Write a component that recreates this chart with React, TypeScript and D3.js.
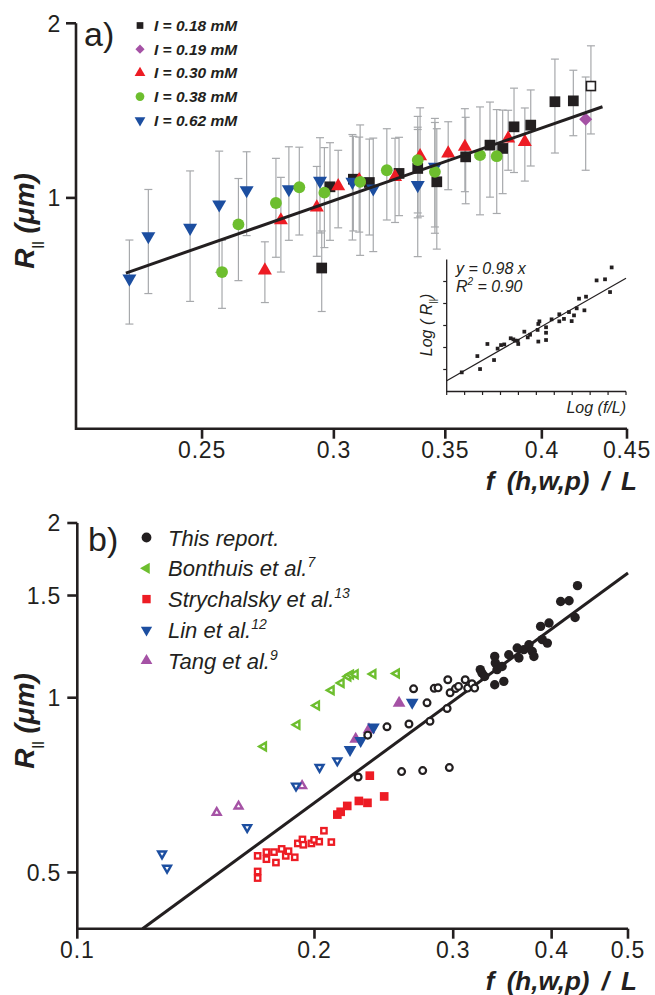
import React from "react";
import * as d3 from "d3";

const FONT = "'Liberation Sans', Arial, Helvetica, sans-serif";
const INK = "#231f20";
const GRAY = "#a7a9ac";
const PURPLE = "#a552a5";
const RED = "#ed1c24";
const GREEN = "#6dbe2e";
const BLUE = "#1c4ea0";

// ---- panel a : R|| vs f/L for five ionic strengths ----
const xTicksA = [0.25, 0.3, 0.35, 0.4, 0.45];
const yTicksA = [1, 2];

const a018X = [0.295, 0.2984, 0.3082, 0.3151, 0.3283, 0.3369, 0.3459, 0.36, 0.3723, 0.3789, 0.3849, 0.3939, 0.4073, 0.4178];
const a018Y = [0.757, 1.045, 1.077, 1.063, 1.102, 1.124, 1.066, 1.177, 1.233, 1.217, 1.326, 1.335, 1.465, 1.47];
const a018Err = [0.12, 0.2, 0.2, 0.2, 0.17, 0.2, 0.25, 0.2, 0.23, 0.2, 0.22, 0.2, 0.27, 0.19];
const a018OpenX = [0.4281];
const a018OpenY = [1.559];
const a018OpenErr = [0.27];

const a019X = [0.425];
const a019Y = [1.366];
const a019Err = [0.25];

const a030X = [0.2727, 0.2788, 0.293, 0.3018, 0.3107, 0.3265, 0.338, 0.3514, 0.3596, 0.3818, 0.3907];
const a030Y = [0.75, 0.915, 0.963, 1.048, 1.073, 1.087, 1.18, 1.193, 1.225, 1.266, 1.249];
const a030Err = [0.09, 0.17, 0.17, 0.16, 0.2, 0.18, 0.25, 0.16, 0.2, 0.15, 0.18];

const a038X = [0.257, 0.2629, 0.2769, 0.286, 0.2961, 0.3111, 0.3228, 0.3369, 0.345, 0.3672, 0.3758];
const a038Y = [0.745, 0.9, 0.98, 1.043, 1.021, 1.066, 1.116, 1.162, 1.109, 1.185, 1.18];
const a038Err = [0.1, 0.18, 0.19, 0.18, 0.2, 0.27, 0.2, 0.22, 0.24, 0.25, 0.24];

const a062X = [0.2261, 0.2321, 0.2459, 0.256, 0.2659, 0.2819, 0.2943, 0.3078, 0.3168, 0.3369, 0.345];
const a062Y = [0.726, 0.859, 0.888, 0.974, 1.031, 1.035, 1.07, 1.066, 1.038, 1.052, 1.131];
const a062Err = [0.12, 0.175, 0.225, 0.23, 0.17, 0.19, 0.2, 0.22, 0.23, 0.26, 0.24];

const fitAX = [0.225, 0.435];
const fitAY = [0.742, 1.436];

const legendA = ["I = 0.18 mM", "I = 0.19 mM", "I = 0.30 mM", "I = 0.38 mM", "I = 0.62 mM"];

// ---- inset : log-log (tick units, unlabeled) ----
const insetX = [0.84, 1.71, 1.86, 2.27, 2.64, 2.84, 3.03, 3.21, 3.57, 3.72, 3.81, 3.99, 3.96, 4.33, 4.52, 4.65, 5.07, 5.11, 5.11, 5.17, 5.54, 5.54, 5.54, 5.85, 6.28, 6.28, 6.54, 6.82, 6.97, 7.1, 7.25, 7.38, 7.68, 7.77, 8.36, 8.83, 9.11, 9.2];
const insetY = [0.87, 1.61, 1.02, 2.16, 1.43, 1.95, 2.11, 2.14, 2.42, 2.37, 2.31, 2.16, 2.31, 2.72, 2.46, 2.58, 2.8, 2.27, 3.07, 3.19, 2.92, 2.67, 2.34, 3.28, 3.51, 3.19, 3.3, 3.61, 3.2, 3.46, 3.78, 4.22, 3.69, 4.31, 5.05, 5.1, 4.52, 5.64];
const insetFitX = [0, 10];
const insetFitY = [0.49, 5.15];
const insetXTicks = [0, 1, 2, 3, 4, 5, 6, 7, 8, 9, 10];
const insetYTicks = [1, 2, 3, 4, 5];

// ---- panel b : comparison with literature ----
const xTicksB = [0.1, 0.2, 0.3, 0.4, 0.5];
const yTicksB = [0.5, 1, 1.5, 2];

const reportOpenX = [0.2272, 0.2337, 0.2472, 0.258, 0.2636, 0.2672, 0.2744, 0.2779, 0.2803, 0.2838, 0.287, 0.2947, 0.2953, 0.2966, 0.2973, 0.302, 0.3047, 0.3107, 0.3129, 0.3169, 0.3194];
const reportOpenY = [0.73, 0.862, 0.891, 0.746, 0.901, 1.036, 0.749, 0.98, 0.911, 1.038, 1.04, 0.958, 1.074, 0.758, 1.02, 1.037, 1.046, 1.074, 1.039, 1.057, 1.039];
const reportFillX = [0.3247, 0.3263, 0.3289, 0.3387, 0.3393, 0.3387, 0.341, 0.3461, 0.3478, 0.3529, 0.3617, 0.3635, 0.3688, 0.3743, 0.3779, 0.3798, 0.3873, 0.3892, 0.395, 0.3969, 0.4107, 0.4209, 0.4284, 0.4314];
const reportFillY = [1.118, 1.103, 1.088, 1.178, 1.148, 1.053, 1.118, 1.132, 1.067, 1.186, 1.218, 1.171, 1.21, 1.234, 1.202, 1.178, 1.327, 1.259, 1.242, 1.345, 1.465, 1.469, 1.375, 1.56];

const bonthuisX = [0.1724, 0.1901, 0.2013, 0.2101, 0.2163, 0.2206, 0.2223, 0.2254, 0.2374, 0.2542];
const bonthuisY = [0.824, 0.898, 0.97, 1.03, 1.06, 1.088, 1.096, 1.098, 1.099, 1.101];

const strychOpenX = [0.1694, 0.1694, 0.1694, 0.1738, 0.1738, 0.1777, 0.1787, 0.1817, 0.1839, 0.1854, 0.1888, 0.1905, 0.1931, 0.1936, 0.1982, 0.1998, 0.2028, 0.2056, 0.2101];
const strychOpenY = [0.534, 0.502, 0.489, 0.527, 0.542, 0.542, 0.52, 0.549, 0.534, 0.544, 0.531, 0.561, 0.57, 0.558, 0.561, 0.569, 0.565, 0.59, 0.564];
const strychFillX = [0.2138, 0.2159, 0.2201, 0.2277, 0.2335, 0.2452, 0.2351];
const strychFillY = [0.629, 0.636, 0.651, 0.664, 0.659, 0.676, 0.734];

const linOpenX = [0.1281, 0.13, 0.1643, 0.1895, 0.203, 0.2138];
const linOpenY = [0.5385, 0.5088, 0.598, 0.705, 0.759, 0.779];
const linFillX = [0.2219, 0.2289, 0.2376, 0.2661];
const linFillY = [0.814, 0.843, 0.89, 0.982];

const tangOpenX = [0.1503, 0.1602, 0.1929];
const tangOpenY = [0.634, 0.65, 0.705];
const tangFillX = [0.2256, 0.2345, 0.2561];
const tangFillY = [0.849, 0.881, 0.979];

const fitBX = [0.121, 0.5];
const fitBY = [0.4, 1.64];

const legendB = [
  { text: "This report.", sup: "" },
  { text: "Bonthuis et al.", sup: "7" },
  { text: "Strychalsky et al.", sup: "13" },
  { text: "Lin et al.", sup: "12" },
  { text: "Tang et al.", sup: "9" },
];

const sym = (t: d3.SymbolType, s: number) => d3.symbol().type(t).size(s)() as string;

function Mark({ cx, cy, shape, size, fill, dot = false }: any) {
  const rot = shape === "triDown" ? 180 : shape === "triLeft" ? -90 : shape === "diamond" ? 45 : 0;
  const type = shape.startsWith("tri") ? d3.symbolTriangle : shape === "circle" ? d3.symbolCircle : d3.symbolSquare;
  return (
    <g transform={`translate(${cx},${cy}) rotate(${rot})`}>
      <path d={sym(type, size)} fill={fill} />
      {dot && <path d={sym(type, size * 0.09)} fill="#fff" />}
    </g>
  );
}

const fmt = (v: number) => String(v);

export default function App() {
  const xA = d3.scaleLog().domain([0.21, 0.45]).range([76, 627]);
  const yA = d3.scaleLog().domain([0.4, 2]).range([428.7, 23.3]);
  const xB = d3.scaleLog().domain([0.1, 0.5]).range([77.3, 628]);
  const yB = d3.scaleLog().domain([0.4, 2]).range([928.7, 523]);
  const xI = d3.scaleLinear().domain([0, 10]).range([446.7, 626]);
  const yI = d3.scaleLinear().domain([0, 6]).range([391.5, 259.5]);

  const seriesA = [
    { x: a018X, y: a018Y, err: a018Err, shape: "square", size: 115, color: INK },
    { x: a030X, y: a030Y, err: a030Err, shape: "triUp", size: 85, color: RED },
    { x: a062X, y: a062Y, err: a062Err, shape: "triDown", size: 85, color: BLUE },
    { x: a038X, y: a038Y, err: a038Err, shape: "circle", size: 110, color: GREEN },
    { x: a019X, y: a019Y, err: a019Err, shape: "diamond", size: 85, color: PURPLE },
  ];
  const legendAMarks = [
    { shape: "square", size: 45, color: INK },
    { shape: "diamond", size: 42, color: PURPLE },
    { shape: "triUp", size: 50, color: RED },
    { shape: "circle", size: 60, color: GREEN },
    { shape: "triDown", size: 50, color: BLUE },
  ];
  const legendBMarks = [
    { shape: "circle", size: 75, color: INK },
    { shape: "triLeft", size: 55, color: GREEN },
    { shape: "square", size: 70, color: RED },
    { shape: "triDown", size: 55, color: BLUE },
    { shape: "triUp", size: 60, color: PURPLE },
  ];

  const errBars = (xs: number[], ys: number[], es: number[], key: string) =>
    xs.map((x, i) => {
      const cx = xA(x);
      const t = yA(ys[i] + es[i]);
      const b = yA(ys[i] - es[i]);
      return (
        <g key={key + i} stroke={GRAY} strokeWidth={1.2}>
          <line x1={cx} x2={cx} y1={t} y2={b} />
          <line x1={cx - 4} x2={cx + 4} y1={t} y2={t} />
          <line x1={cx - 4} x2={cx + 4} y1={b} y2={b} />
        </g>
      );
    });

  const axisStyle = { stroke: INK, strokeWidth: 2.6, fill: "none" } as const;
  const tickFont = { fontSize: 23, letterSpacing: 0.8, fill: INK } as const;

  return (
    <svg width={655} height={995} style={{ position: "absolute", left: 0, top: 0, background: "#fff" }} fontFamily={FONT}>
      <rect width={655} height={995} fill="#fff" />

      {/* ================= panel a ================= */}
      {seriesA.map((s, k) => errBars(s.x, s.y, s.err, "e" + k))}
      {errBars(a018OpenX, a018OpenY, a018OpenErr, "eo")}
      {seriesA.map((s, k) =>
        s.x.map((x, i) => (
          <Mark key={"a" + k + "-" + i} cx={xA(x)} cy={yA(s.y[i])} shape={s.shape} size={s.size} fill={s.color} />
        ))
      )}
      {a018OpenX.map((x, i) => (
        <rect key={"ao" + i} x={xA(x) - 4.5} y={yA(a018OpenY[i]) - 4.5} width={9} height={9} fill="#fff" stroke={INK} strokeWidth={1.6} />
      ))}
      <line x1={xA(fitAX[0])} y1={yA(fitAY[0])} x2={xA(fitAX[1])} y2={yA(fitAY[1])} stroke={INK} strokeWidth={3} />

      <path d={`M${xA.range()[0]},${yA.range()[1]}V${yA.range()[0]}H${xA.range()[1]}`} {...axisStyle} />
      {yTicksA.map((t) => (
        <g key={"yta" + t}>
          <line x1={xA.range()[0] - 10} x2={xA.range()[0]} y1={yA(t)} y2={yA(t)} stroke={INK} strokeWidth={2.6} />
          <text x={61} y={yA(t)} dy="0.36em" textAnchor="end" {...tickFont}>{fmt(t)}</text>
        </g>
      ))}
      {xTicksA.map((t) => (
        <g key={"xta" + t}>
          <line x1={xA(t)} x2={xA(t)} y1={yA.range()[0]} y2={yA.range()[0] + 10} stroke={INK} strokeWidth={2.6} />
          <text x={xA(t)} y={458} textAnchor="middle" {...tickFont}>{fmt(t)}</text>
        </g>
      ))}
      <text x={84} y={46} fontSize={34} fill={INK}>a)</text>
      {legendA.map((l, i) => {
        const cy = 25.5 + i * 23.7;
        const m = legendAMarks[i];
        return (
          <g key={"la" + i}>
            <Mark cx={140} cy={cy} shape={m.shape} size={m.size} fill={m.color} />
            <text x={154} y={cy + 5.5} fontSize={15.5} fontWeight="bold" fontStyle="italic" fill={INK}>{l}</text>
          </g>
        );
      })}
      <text transform="translate(34,221) rotate(-90)" textAnchor="middle" fontSize={28} fontWeight="bold" fontStyle="italic" fill={INK}>
        R<tspan fontSize={13} dy={7}>||</tspan><tspan dy={-7}> (μm)</tspan>
      </text>
      <text x={637} y={490} textAnchor="end" fontSize={26} fontWeight="bold" fontStyle="italic" wordSpacing={5} fill={INK}>f (h,w,p) / L</text>

      {/* ---- inset ---- */}
      <line x1={xI(insetFitX[0])} y1={yI(insetFitY[0])} x2={xI(insetFitX[1])} y2={yI(insetFitY[1])} stroke={INK} strokeWidth={1.2} />
      {insetX.map((x, i) => (
        <path key={"in" + i} transform={`translate(${xI(x)},${yI(insetY[i])})`} d={sym(d3.symbolSquare, 14)} fill={INK} />
      ))}
      <path d={`M${xI.range()[0]},${yI.range()[1]}V${yI.range()[0]}H${xI.range()[1]}`} stroke={INK} strokeWidth={1.3} fill="none" />
      {insetXTicks.map((t) => (
        <line key={"ixt" + t} x1={xI(t)} x2={xI(t)} y1={yI(0)} y2={yI(0) + 3.5} stroke={INK} strokeWidth={1.2} />
      ))}
      {insetYTicks.map((t) => (
        <line key={"iyt" + t} x1={xI(0) - 3.5} x2={xI(0)} y1={yI(t)} y2={yI(t)} stroke={INK} strokeWidth={1.2} />
      ))}
      <text x={456} y={274} fontSize={16} fontStyle="italic" fill={INK}>y = 0.98 x</text>
      <text x={456} y={292} fontSize={16} fontStyle="italic" fill={INK}>
        R<tspan fontSize={10} dy={-7}>2</tspan><tspan dy={7}> = 0.90</tspan>
      </text>
      <text transform="translate(432,325) rotate(-90)" textAnchor="middle" fontSize={16} fontStyle="italic" fill={INK}>
        Log ( R<tspan fontSize={9} dy={4}>||</tspan><tspan dy={-4}>)</tspan>
      </text>
      <text x={626} y={413} textAnchor="end" fontSize={16} fontStyle="italic" fill={INK}>Log (f/L)</text>

      {/* ================= panel b ================= */}
      <line x1={xB(fitBX[0])} y1={yB(fitBY[0])} x2={xB(fitBX[1])} y2={yB(fitBY[1])} stroke={INK} strokeWidth={3} />
      {strychOpenX.map((x, i) => (
        <rect key={"so" + i} x={xB(x) - 2.7} y={yB(strychOpenY[i]) - 2.7} width={5.4} height={5.4} fill="#fff" stroke={RED} strokeWidth={2.3} />
      ))}
      {strychFillX.map((x, i) => (
        <Mark key={"sf" + i} cx={xB(x)} cy={yB(strychFillY[i])} shape="square" size={75} fill={RED} />
      ))}
      {bonthuisX.map((x, i) => (
        <Mark key={"bo" + i} cx={xB(x)} cy={yB(bonthuisY[i])} shape="triLeft" size={62} fill={GREEN} dot />
      ))}
      {tangOpenX.map((x, i) => (
        <Mark key={"to" + i} cx={xB(x)} cy={yB(tangOpenY[i])} shape="triUp" size={62} fill={PURPLE} dot />
      ))}
      {tangFillX.map((x, i) => (
        <Mark key={"tf" + i} cx={xB(x)} cy={yB(tangFillY[i])} shape="triUp" size={70} fill={PURPLE} />
      ))}
      {linOpenX.map((x, i) => (
        <Mark key={"lo" + i} cx={xB(x)} cy={yB(linOpenY[i])} shape="triDown" size={62} fill={BLUE} dot />
      ))}
      {linFillX.map((x, i) => (
        <Mark key={"lf" + i} cx={xB(x)} cy={yB(linFillY[i])} shape="triDown" size={70} fill={BLUE} />
      ))}
      {reportOpenX.map((x, i) => (
        <circle key={"ro" + i} cx={xB(x)} cy={yB(reportOpenY[i])} r={3.4} fill="#fff" stroke={INK} strokeWidth={2.2} />
      ))}
      {reportFillX.map((x, i) => (
        <circle key={"rf" + i} cx={xB(x)} cy={yB(reportFillY[i])} r={4.7} fill={INK} />
      ))}

      <path d={`M${xB.range()[0]},${yB.range()[1]}V${yB.range()[0]}H${xB.range()[1]}`} {...axisStyle} />
      {yTicksB.map((t) => (
        <g key={"ytb" + t}>
          <line x1={xB.range()[0] - 10} x2={xB.range()[0]} y1={yB(t)} y2={yB(t)} stroke={INK} strokeWidth={2.6} />
          <text x={61} y={yB(t)} dy="0.36em" textAnchor="end" {...tickFont}>{fmt(t)}</text>
        </g>
      ))}
      {xTicksB.map((t) => (
        <g key={"xtb" + t}>
          <line x1={xB(t)} x2={xB(t)} y1={yB.range()[0]} y2={yB.range()[0] + 10} stroke={INK} strokeWidth={2.6} />
          <text x={xB(t)} y={958} textAnchor="middle" {...tickFont}>{fmt(t)}</text>
        </g>
      ))}
      <text x={88} y={551} fontSize={34} fill={INK}>b)</text>
      {legendB.map((l, i) => {
        const cy = 537.5 + i * 30.8;
        const m = legendBMarks[i];
        return (
          <g key={"lb" + i}>
            <Mark cx={146.5} cy={cy} shape={m.shape} size={m.size} fill={m.color} />
            <text x={168} y={cy + 8} fontSize={22} fontStyle="italic" fill={INK}>
              {l.text}
              {l.sup && <tspan fontSize={14} dy={-9}>{l.sup}</tspan>}
            </text>
          </g>
        );
      })}
      <text transform="translate(34,721) rotate(-90)" textAnchor="middle" fontSize={28} fontWeight="bold" fontStyle="italic" fill={INK}>
        R<tspan fontSize={13} dy={7}>||</tspan><tspan dy={-7}> (μm)</tspan>
      </text>
      <text x={637} y={990} textAnchor="end" fontSize={26} fontWeight="bold" fontStyle="italic" wordSpacing={5} fill={INK}>f (h,w,p) / L</text>
    </svg>
  );
}
